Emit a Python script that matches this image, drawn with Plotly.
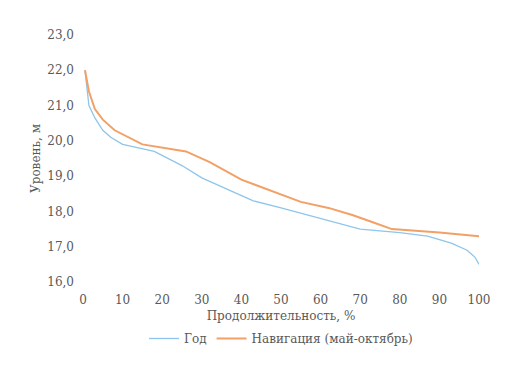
import plotly.graph_objects as go

# Data
year_x = [0.5, 1.5, 3, 5, 7, 10, 18, 25, 30, 35, 43, 50, 60, 70, 80, 87, 93, 97, 99, 100]
year_y = [22.0, 21.0, 20.65, 20.3, 20.1, 19.9, 19.7, 19.3, 18.95, 18.7, 18.3, 18.1, 17.8, 17.5, 17.4, 17.3, 17.1, 16.9, 16.7, 16.5]
nav_x = [0.5, 1.5, 3, 5, 8, 15, 26, 32, 40, 47, 55, 62, 68, 73, 78, 90, 100]
nav_y = [22.0, 21.4, 20.9, 20.6, 20.3, 19.9, 19.7, 19.4, 18.9, 18.6, 18.27, 18.1, 17.9, 17.7, 17.5, 17.4, 17.3]
x_ticks = [0, 10, 20, 30, 40, 50, 60, 70, 80, 90, 100]
y_ticks = [16, 17, 18, 19, 20, 21, 22, 23]
y_labels = ["16,0", "17,0", "18,0", "19,0", "20,0", "21,0", "22,0", "23,0"]

font = dict(family="DejaVu Serif", size=12, color="#595959")

fig = go.Figure()
fig.add_trace(go.Scatter(x=year_x, y=year_y, mode="lines", name="Год",
                         line=dict(color="#8EC5EC", width=1.3)))
fig.add_trace(go.Scatter(x=nav_x, y=nav_y, mode="lines", name="Навигация (май-октябрь)",
                         line=dict(color="#F2A066", width=2)))

fig.update_layout(
    width=529, height=374,
    margin=dict(l=75, r=58, t=27, b=100, autoexpand=False),
    paper_bgcolor="white", plot_bgcolor="white",
    font=font,
    showlegend=True,
    legend=dict(orientation="h", x=0.5, xanchor="center", y=-0.17, yanchor="top",
                font=font, itemwidth=30, tracegroupgap=0),
    xaxis=dict(range=[0, 100], tickvals=x_ticks, showgrid=False, zeroline=False,
               showline=False, ticks="", tickfont=font, automargin=False,
               ticklabelstandoff=9,
               title=dict(text="Продолжительность, %", font=font, standoff=5)),
    yaxis=dict(range=[16, 23], tickvals=y_ticks, ticktext=y_labels, showgrid=False,
               zeroline=False, showline=False, ticks="", tickfont=font, automargin=False,
               ticklabelstandoff=8,
               title=dict(text="Уровень, м", font=font, standoff=4)),
)

fig.write_html("out.html")
